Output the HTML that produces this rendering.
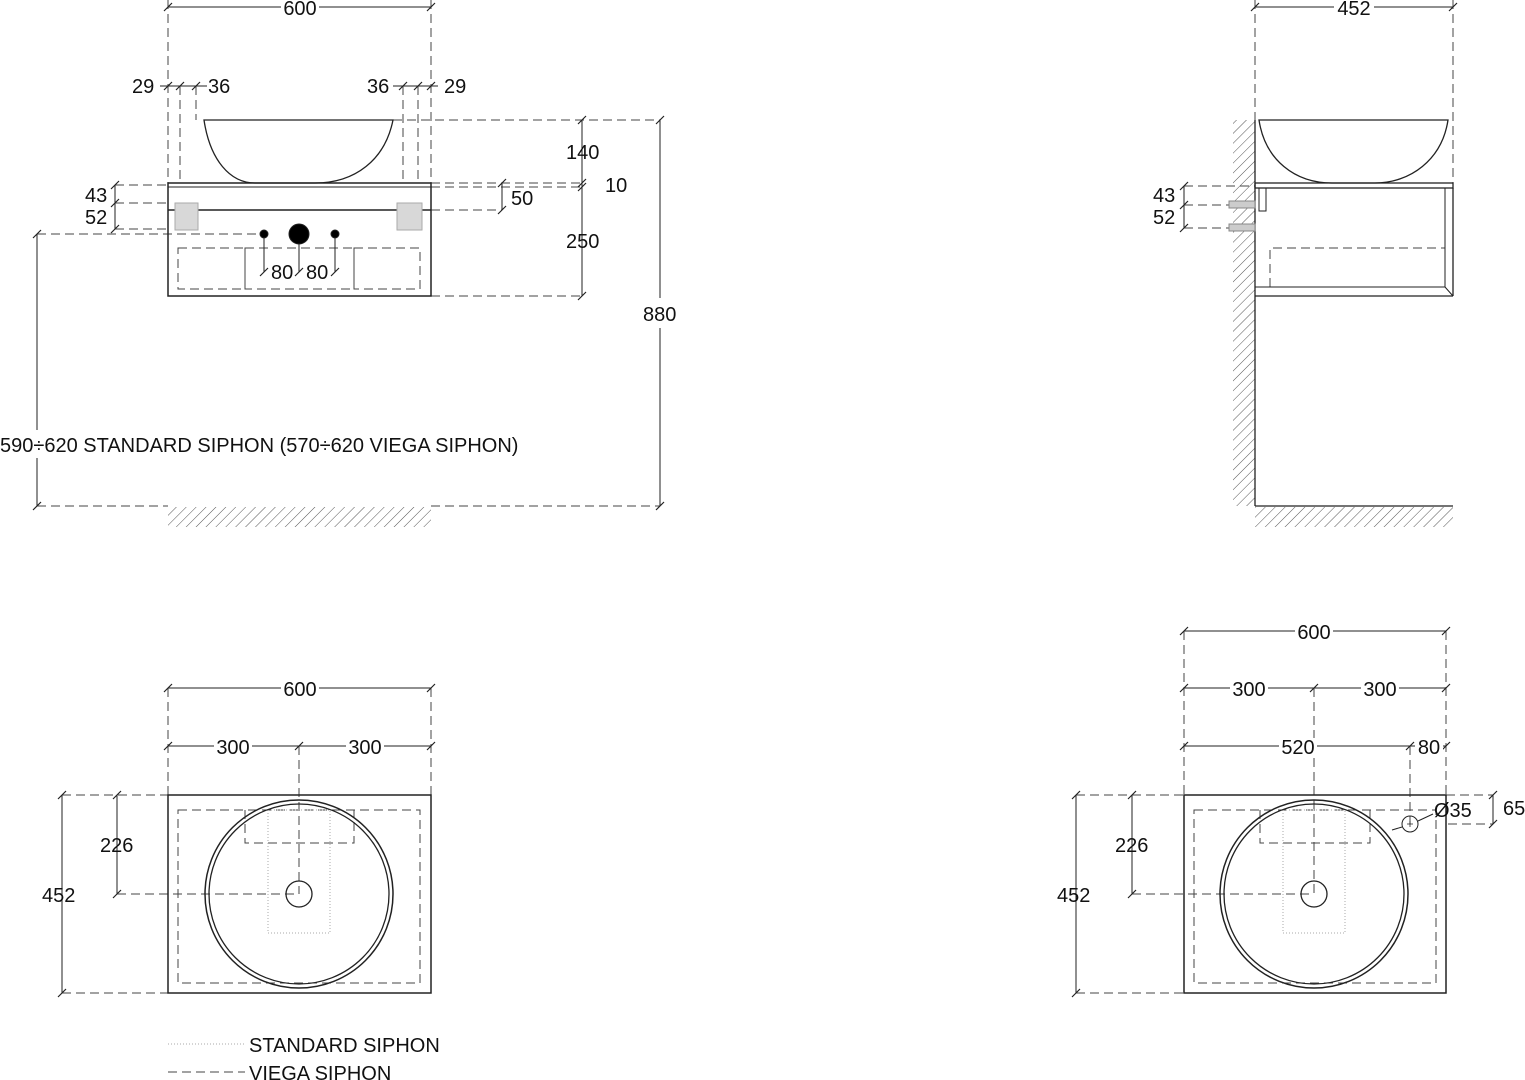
<!DOCTYPE html>
<html><head><style>
html,body{margin:0;padding:0;background:#fff}
svg{display:block}
text{font-family:"Liberation Sans",sans-serif;font-size:20px;fill:#111}
</style></head><body>
<svg width="1525" height="1080" viewBox="0 0 1525 1080" xmlns="http://www.w3.org/2000/svg">
<defs>
<pattern id="h" width="7" height="7" patternUnits="userSpaceOnUse" patternTransform="rotate(45)">
<line x1="0" y1="0" x2="0" y2="7" stroke="#555" stroke-width="1"/>
</pattern>
</defs>
<g fill="none" stroke="#222" stroke-width="1">
<g stroke-dasharray="9,5" stroke="#444">
<line x1="168" y1="0" x2="168" y2="183"/>
<line x1="431" y1="0" x2="431" y2="183"/>
<line x1="180" y1="86" x2="180" y2="183"/>
<line x1="196" y1="86" x2="196" y2="120"/>
<line x1="403" y1="86" x2="403" y2="183"/>
<line x1="418" y1="86" x2="418" y2="183"/>
<line x1="393" y1="120" x2="660" y2="120"/>
<line x1="431" y1="183" x2="582" y2="183"/>
<line x1="431" y1="187" x2="582" y2="187"/>
<line x1="431" y1="210" x2="502" y2="210"/>
<line x1="431" y1="296" x2="582" y2="296"/>
<line x1="115" y1="185" x2="168" y2="185"/>
<line x1="115" y1="203" x2="168" y2="203"/>
<line x1="115" y1="229" x2="168" y2="229"/>
<line x1="37" y1="234" x2="264" y2="234"/>
<line x1="37" y1="506" x2="168" y2="506"/>
<line x1="431" y1="506" x2="660" y2="506"/>
<rect x="178" y="248" width="67" height="41"/>
<rect x="245" y="248" width="109" height="41"/>
<rect x="354" y="248" width="66" height="41"/>
</g>
<line x1="168" y1="7" x2="431" y2="7"/>
<line x1="160" y1="86" x2="207" y2="86"/>
<line x1="393" y1="86" x2="438" y2="86"/>
<line x1="582" y1="120" x2="582" y2="296"/>
<line x1="660" y1="120" x2="660" y2="298"/>
<line x1="660" y1="328" x2="660" y2="506"/>
<line x1="502" y1="183" x2="502" y2="210"/>
<line x1="115" y1="185" x2="115" y2="229"/>
<line x1="37" y1="234" x2="37" y2="430"/>
<line x1="37" y1="458" x2="37" y2="506"/>
<line x1="264" y1="234" x2="264" y2="272"/>
<line x1="299" y1="234" x2="299" y2="272"/>
<line x1="335" y1="234" x2="335" y2="272"/>
<g stroke-width="1.2">
<path d="M164 11l8-8M427 11l8-8M164 90l8-8M176 90l8-8M192 90l8-8M399 90l8-8M414 90l8-8M427 90l8-8
M578 124l8-8M578 187l8-8M578 191l8-8M578 300l8-8M656 124l8-8M656 510l8-8M498 187l8-8M498 214l8-8
M111 189l8-8M111 207l8-8M111 233l8-8M33 238l8-8M33 510l8-8M260 276l8-8M295 276l8-8M331 276l8-8"/>
</g>
<rect x="168" y="183" width="263" height="113" stroke-width="1.5"/>
<line x1="168" y1="187" x2="431" y2="187"/>
<line x1="168" y1="210" x2="431" y2="210" stroke-width="1.5"/>
<rect x="175" y="203" width="23" height="27" fill="#d8d8d8" stroke="#aaa"/>
<rect x="397" y="203" width="25" height="27" fill="#d8d8d8" stroke="#aaa"/>
<path d="M204 120 H393 C385 160 355 183 315 183 H255 C230 183 210 160 204 120 Z" stroke-width="1.3"/>
<circle cx="264" cy="234" r="4" fill="#000"/>
<circle cx="299" cy="234" r="10" fill="#000"/>
<circle cx="335" cy="234" r="4" fill="#000"/>
<rect x="168" y="507" width="263" height="20" fill="url(#h)" stroke="none"/>
<g stroke-dasharray="9,5" stroke="#444">
<line x1="1255" y1="0" x2="1255" y2="120"/>
<line x1="1453" y1="0" x2="1453" y2="183"/>
<line x1="1184" y1="186" x2="1255" y2="186"/>
<line x1="1184" y1="205" x2="1229" y2="205"/>
<line x1="1184" y1="228" x2="1229" y2="228"/>
<path d="M1270 287 V248 H1445"/>
</g>
<line x1="1255" y1="7" x2="1453" y2="7"/>
<line x1="1184" y1="186" x2="1184" y2="228"/>
<path stroke-width="1.2" d="M1251 11l8-8M1449 11l8-8M1180 190l8-8M1180 209l8-8M1180 232l8-8"/>
<rect x="1233" y="120" width="22" height="386" fill="url(#h)" stroke="none"/>
<rect x="1255" y="507" width="198" height="20" fill="url(#h)" stroke="none"/>
<line x1="1255" y1="120" x2="1255" y2="506" stroke-width="1.3"/>
<line x1="1255" y1="506" x2="1453" y2="506" stroke-width="1.3"/>
<rect x="1255" y="183" width="198" height="5" stroke-width="1.3"/>
<line x1="1445" y1="188" x2="1445" y2="287"/>
<line x1="1453" y1="188" x2="1453" y2="296" stroke-width="1.3"/>
<line x1="1255" y1="287" x2="1445" y2="287"/>
<line x1="1255" y1="296" x2="1453" y2="296" stroke-width="1.3"/>
<line x1="1445" y1="287" x2="1453" y2="296"/>
<rect x="1259" y="188" width="7" height="23"/>
<rect x="1229" y="201" width="26" height="7" fill="#ccc" stroke="#888"/>
<rect x="1229" y="224" width="26" height="7" fill="#ccc" stroke="#888"/>
<path d="M1259 120 H1448 C1442 160 1410 183 1375 183 H1332 C1295 183 1265 160 1259 120 Z" stroke-width="1.3"/>
<g stroke-dasharray="9,5" stroke="#444">
<line x1="168" y1="688" x2="168" y2="795"/>
<line x1="431" y1="688" x2="431" y2="795"/>
<line x1="299" y1="746" x2="299" y2="894"/>
<line x1="62" y1="795" x2="168" y2="795"/>
<line x1="62" y1="993" x2="168" y2="993"/>
<line x1="117" y1="894" x2="299" y2="894"/>
<rect x="178" y="810" width="242" height="173"/>
<path d="M245 810 V843 H354 V810"/>
</g>
<rect x="268" y="810" width="62" height="123" stroke="#aaa" stroke-dasharray="1,2"/>
<line x1="168" y1="688" x2="431" y2="688"/>
<line x1="168" y1="746" x2="431" y2="746"/>
<line x1="62" y1="795" x2="62" y2="993"/>
<line x1="117" y1="795" x2="117" y2="894"/>
<path stroke-width="1.2" d="M164 692l8-8M427 692l8-8M164 750l8-8M295 750l8-8M427 750l8-8M58 799l8-8M58 997l8-8M113 799l8-8M113 898l8-8"/>
<rect x="168" y="795" width="263" height="198" stroke-width="1.5" fill="none"/>
<circle cx="299" cy="894" r="94" stroke-width="1.5"/>
<circle cx="299" cy="894" r="90" stroke-width="1.3"/>
<circle cx="299" cy="894" r="13" stroke-width="1.3"/>
<g stroke-dasharray="9,5" stroke="#444">
<line x1="1184" y1="631" x2="1184" y2="795"/>
<line x1="1446" y1="631" x2="1446" y2="795"/>
<line x1="1314" y1="688" x2="1314" y2="894"/>
<line x1="1410" y1="746" x2="1410" y2="824"/>
<line x1="1076" y1="795" x2="1184" y2="795"/>
<line x1="1076" y1="993" x2="1184" y2="993"/>
<line x1="1132" y1="894" x2="1314" y2="894"/>
<line x1="1446" y1="795" x2="1493" y2="795"/>
<line x1="1448" y1="824" x2="1493" y2="824"/>
<rect x="1194" y="810" width="242" height="173"/>
<path d="M1260 810 V843 H1370 V810"/>
</g>
<rect x="1283" y="810" width="62" height="123" stroke="#aaa" stroke-dasharray="1,2"/>
<line x1="1184" y1="631" x2="1446" y2="631"/>
<line x1="1184" y1="688" x2="1446" y2="688"/>
<line x1="1184" y1="746" x2="1446" y2="746"/>
<line x1="1076" y1="795" x2="1076" y2="993"/>
<line x1="1132" y1="795" x2="1132" y2="894"/>
<line x1="1493" y1="795" x2="1493" y2="824"/>
<path stroke-width="1.2" d="M1180 635l8-8M1442 635l8-8M1180 692l8-8M1310 692l8-8M1442 692l8-8M1180 750l8-8M1406 750l8-8M1442 750l8-8M1072 799l8-8M1072 997l8-8M1128 799l8-8M1128 898l8-8M1489 799l8-8M1489 828l8-8"/>
<rect x="1184" y="795" width="262" height="198" stroke-width="1.5"/>
<circle cx="1314" cy="894" r="94" stroke-width="1.5"/>
<circle cx="1314" cy="894" r="90" stroke-width="1.3"/>
<circle cx="1314" cy="894" r="13" stroke-width="1.3"/>
<circle cx="1410" cy="824" r="8"/>
<path d="M1407 824h6M1410 821v6" stroke-width="0.8"/>
<line x1="1392" y1="830" x2="1402" y2="827"/>
<line x1="1418" y1="821" x2="1433" y2="814"/>
<line x1="168" y1="1044" x2="245" y2="1044" stroke="#aaa" stroke-dasharray="1,2"/>
<line x1="168" y1="1072" x2="245" y2="1072" stroke="#444" stroke-dasharray="9,5"/>
</g>
<g>
<rect x="281" y="0" width="38" height="16" fill="#fff"/><text x="300" y="15" text-anchor="middle">600</text>
<text x="132" y="93">29</text><text x="208" y="93">36</text>
<text x="367" y="93">36</text><text x="444" y="93">29</text>
<text x="566" y="159">140</text><text x="605" y="192">10</text><text x="511" y="205">50</text>
<text x="566" y="248">250</text>
<rect x="642" y="302" width="36" height="24" fill="#fff"/><text x="643" y="321">880</text>
<text x="85" y="202">43</text><text x="85" y="224">52</text>
<text x="271" y="279">80</text><text x="306" y="279">80</text>
<rect x="0" y="433" width="512" height="24" fill="#fff"/>
<text x="0" y="452">590÷620 STANDARD SIPHON (570÷620 VIEGA SIPHON)</text>
<rect x="1334" y="0" width="40" height="16" fill="#fff"/><text x="1354" y="15" text-anchor="middle">452</text>
<text x="1153" y="202">43</text><text x="1153" y="224">52</text>
<rect x="281" y="680" width="38" height="18" fill="#fff"/><text x="300" y="696" text-anchor="middle">600</text>
<rect x="214" y="738" width="38" height="18" fill="#fff"/><text x="233" y="754" text-anchor="middle">300</text>
<rect x="346" y="738" width="38" height="18" fill="#fff"/><text x="365" y="754" text-anchor="middle">300</text>
<text x="100" y="852">226</text><text x="42" y="902">452</text>
<rect x="1295" y="622" width="38" height="18" fill="#fff"/><text x="1314" y="639" text-anchor="middle">600</text>
<rect x="1230" y="680" width="38" height="18" fill="#fff"/><text x="1249" y="696" text-anchor="middle">300</text>
<rect x="1361" y="680" width="38" height="18" fill="#fff"/><text x="1380" y="696" text-anchor="middle">300</text>
<rect x="1279" y="738" width="38" height="18" fill="#fff"/><text x="1298" y="754" text-anchor="middle">520</text>
<rect x="1415" y="738" width="28" height="18" fill="#fff"/><text x="1429" y="754" text-anchor="middle">80</text>
<text x="1434" y="817">Ø35</text><text x="1503" y="815">65</text>
<text x="1115" y="852">226</text><text x="1057" y="902">452</text>
<text x="249" y="1052">STANDARD SIPHON</text>
<text x="249" y="1080">VIEGA SIPHON</text>
</g>
</svg>
</body></html>
